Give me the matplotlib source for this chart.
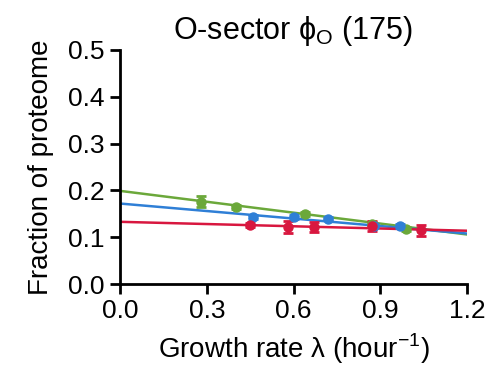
import numpy as np
import matplotlib.pyplot as plt

plt.rcParams['font.family'] = ['Liberation Sans', 'DejaVu Sans']
plt.rcParams['mathtext.fontset'] = 'custom'
plt.rcParams['mathtext.rm'] = 'Liberation Sans'

# growth rate (1/h) and fraction of proteome
green_x = [0.28, 0.40, 0.64, 0.87, 0.99]
green_y = [0.176, 0.164, 0.150, 0.128, 0.117]
green_err = [0.011, 0.004, 0.004, 0.004, 0.004]

blue_x = [0.46, 0.60, 0.72, 0.88, 0.97]
blue_y = [0.144, 0.144, 0.140, 0.125, 0.124]
blue_err = [0.004, 0.004, 0.004, 0.004, 0.004]

red_x = [0.45, 0.58, 0.67, 0.87, 1.04]
red_y = [0.126, 0.122, 0.122, 0.124, 0.115]
red_err = [0.004, 0.012, 0.011, 0.011, 0.012]

# linear fits, value at lambda = 0 and lambda = 1.2
fit_x = [0.0, 1.2]
green_fit = [0.199, 0.106]
blue_fit = [0.172, 0.108]
red_fit = [0.133, 0.114]

colors = {'green': '#6ba83a', 'blue': '#2f7fd6', 'red': '#d8173f'}

fig = plt.figure(figsize=(5, 3.71), dpi=100)
ax = fig.add_axes([0.24, 0.234, 0.694, 0.632])

series = [
    (green_x, green_y, green_err, green_fit, colors['green']),
    (blue_x, blue_y, blue_err, blue_fit, colors['blue']),
    (red_x, red_y, red_err, red_fit, colors['red']),
]
for xs, ys, es, fit, c in series:
    ax.plot(fit_x, fit, color=c, lw=1.8, zorder=2)
    ax.errorbar(xs, ys, yerr=es, fmt='o', color=c, ms=6.5,
                elinewidth=2, capsize=3.5, capthick=2, zorder=3)

ax.set_xlim(0, 1.2)
ax.set_ylim(0, 0.5)
ax.set_xticks([0.0, 0.3, 0.6, 0.9, 1.2])
ax.set_yticks([0.0, 0.1, 0.2, 0.3, 0.4, 0.5])
ax.xaxis.set_major_formatter(plt.FormatStrFormatter('%.1f'))
ax.yaxis.set_major_formatter(plt.FormatStrFormatter('%.1f'))
for s in ['top', 'right']:
    ax.spines[s].set_visible(False)
for s in ['left', 'bottom']:
    ax.spines[s].set_linewidth(2)
ax.tick_params(width=2, length=7, labelsize=19, pad=4)

ax.set_title('O-sector ϕ$_{\\mathrm{O}}$ (175)', fontsize=22, pad=8)
ax.set_xlabel('Growth rate λ (hour$^{\\mathrm{-1}}$)', fontsize=20, labelpad=6)
ax.set_ylabel('Fraction of proteome', fontsize=20, labelpad=10)

fig.savefig('out.png', dpi=100)
